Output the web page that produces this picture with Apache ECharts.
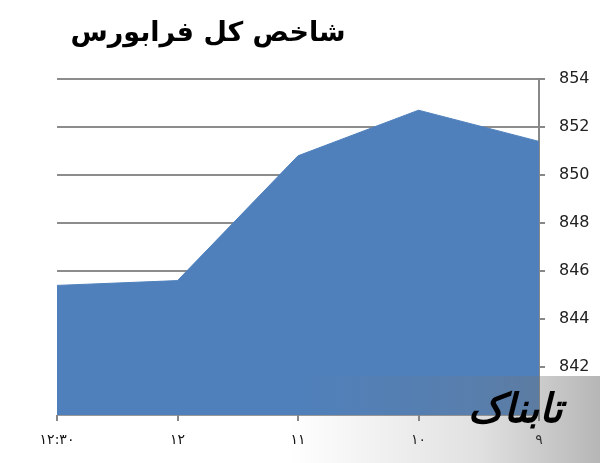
<!DOCTYPE html>
<html>
<head>
<meta charset="utf-8">
<script src="https://cdn.jsdelivr.net/npm/echarts@6/dist/echarts.min.js"></script>
<style>
html,body{margin:0;padding:0;background:#fff;}
#c{width:600px;height:463px;}
</style>
</head>
<body>
<div id="c"></div>
<script>
var titleText = 'شاخص کل فرابورس';
var categories = ['۹', '۱۰', '۱۱', '۱۲', '۱۲:۳۰'];
var values = [851.4, 852.7, 850.8, 845.6, 845.4];
var yMin = 840, yMax = 854, yStep = 2;

var chart = echarts.init(document.getElementById('c'));
chart.setOption({
  animation: false,
  backgroundColor: '#ffffff',
  title: {
    text: titleText,
    left: 203, top: 15, textAlign: 'center',
    textStyle: { fontFamily: 'DejaVu Sans', fontWeight: 'bold', fontSize: 27, color: '#000' }
  },
  grid: { left: 57, right: 61, top: 79, bottom: 48 },
  xAxis: {
    type: 'category',
    data: categories,
    inverse: true,
    boundaryGap: false,
    axisLine: { show: true, lineStyle: { color: '#999', width: 1 } },
    axisTick: { show: true, length: 6, lineStyle: { color: '#888', width: 2 } },
    axisLabel: { margin: 18, fontSize: 14, color: '#111', fontFamily: 'DejaVu Sans' },
    splitLine: { show: false }
  },
  yAxis: {
    type: 'value',
    position: 'right',
    min: yMin, max: yMax, interval: yStep,
    axisLine: { show: true, lineStyle: { color: '#888', width: 2 } },
    axisTick: { show: true, length: 6, lineStyle: { color: '#888', width: 2 } },
    axisLabel: { margin: 20, fontSize: 16, color: '#222', fontFamily: 'DejaVu Sans', showMinLabel: false },
    splitLine: { show: true, lineStyle: { color: '#8c8c8c', width: 2 } }
  },
  series: [{
    type: 'line',
    data: values,
    showSymbol: false,
    symbol: 'none',
    lineStyle: { color: '#4f81bd', width: 1 },
    areaStyle: { color: '#4f80bb', opacity: 1 },
    z: 3
  }],
  graphic: [
    {
      type: 'rect',
      shape: { x: 290, y: 376, width: 310, height: 87 },
      style: {
        fill: new echarts.graphic.LinearGradient(0, 0, 1, 0, [
          { offset: 0, color: 'rgba(120,120,120,0)' },
          { offset: 0.6, color: 'rgba(120,120,120,0.22)' },
          { offset: 1, color: 'rgba(110,110,110,0.5)' }
        ])
      },
      z: 100
    },
    {
      type: 'text',
      left: 468, top: 392,
      style: { text: 'تابناک', font: 'italic bold 40px "DejaVu Sans"', fill: '#000' },
      z: 101
    }
  ]
});
</script>
</body>
</html>
